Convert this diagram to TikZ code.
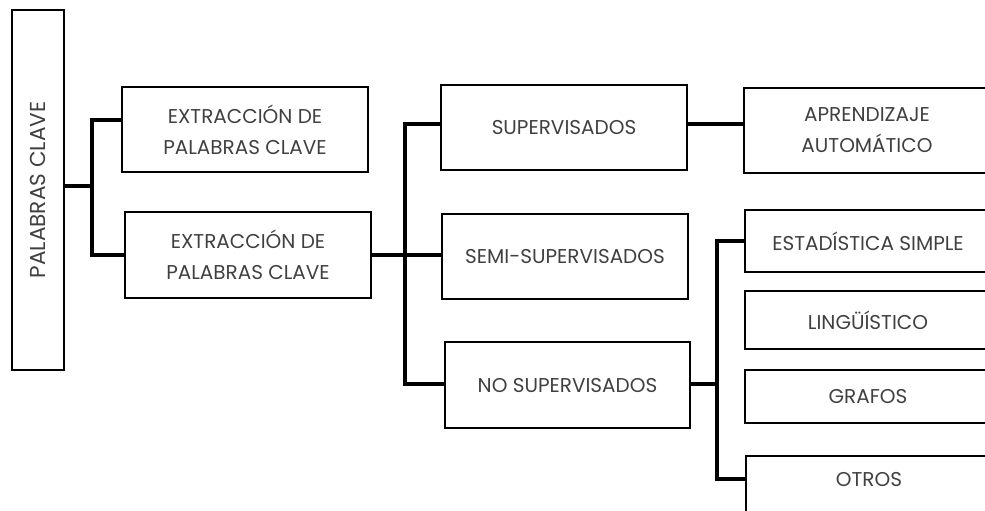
\documentclass[tikz,border=0pt]{standalone}
\usepackage{fontspec}
\setmainfont{Poppins}
\usepackage{graphicx}
\usepackage{tikz}

\begin{document}
\begin{tikzpicture}[x=0.5pt,y=-0.5pt]
\tikzset{
  caja/.style={draw=black,line width=1pt,inner sep=0pt,align=center,
    text=black!75,font=\fontsize{10}{15.5}\selectfont},
  rama/.style={line width=1.6pt}
}
\clip (0,0) rectangle (985,510);
% nivel 0
\node[caja,minimum width=26pt,minimum height=180pt,font=\fontsize{10.8}{13}\selectfont] (raiz) at (38,190) {\rotatebox{90}{PALABRAS CLAVE}};
% nivel 1
\node[caja,minimum width=123pt,minimum height=42.5pt] (extA) at (245,129.5) {EXTRACCIÓN DE\\PALABRAS CLAVE};
\node[caja,minimum width=123pt,minimum height=43pt] (extB) at (248,255) {EXTRACCIÓN DE\\PALABRAS CLAVE};
% nivel 2
\node[caja,minimum width=123pt,minimum height=42.5pt] (sup) at (564,127.5) {SUPERVISADOS};
\node[caja,minimum width=123pt,minimum height=42.5pt] (semi) at (565,256.5) {SEMI-SUPERVISADOS};
\node[caja,minimum width=122.5pt,minimum height=43pt] (nosup) at (567.5,385) {NO SUPERVISADOS};
% nivel 3
\node[caja,minimum width=123pt,minimum height=42.5pt] (apr) at (867,130.5) {APRENDIZAJE\\AUTOMÁTICO};
\node[caja,minimum width=123pt,minimum height=31pt] (est) at (868,241) {ESTADÍSTICA SIMPLE};
\node[caja,minimum width=123pt,minimum height=29pt] (ling) at (868,320) {LINGÜÍSTICO};
\node[caja,minimum width=123pt,minimum height=26.5pt] (graf) at (868,396.5) {GRAFOS};
\node[caja,minimum width=123pt,minimum height=60pt,anchor=north] (otros) at (869,455) {};
\node[caja,draw=none] (otrostxt) at (869,479) {OTROS};
% ramas
\coordinate (j1) at (92,186);
\coordinate (j2) at (405,255);
\coordinate (j3) at (717,384);
\coordinate (c1) at (0,120);
\coordinate (c2) at (0,124);
\draw[rama] (raiz.east|-j1) -- (j1);
\draw[rama] (extA.west|-c1) -| (j1) |- (extB.west);
\draw[rama] (extB.east) -- (j2) -- (j2-|semi.west);
\draw[rama] (sup.west|-c2) -| (j2) |- (nosup.west|-j3);
\draw[rama] (sup.east|-c2) -- (apr.west|-c2);
\draw[rama] (nosup.east|-j3) -- (j3);
\draw[rama] (est.west) -| (j3) |- (otros.west|-otrostxt);
\end{tikzpicture}
\end{document}
